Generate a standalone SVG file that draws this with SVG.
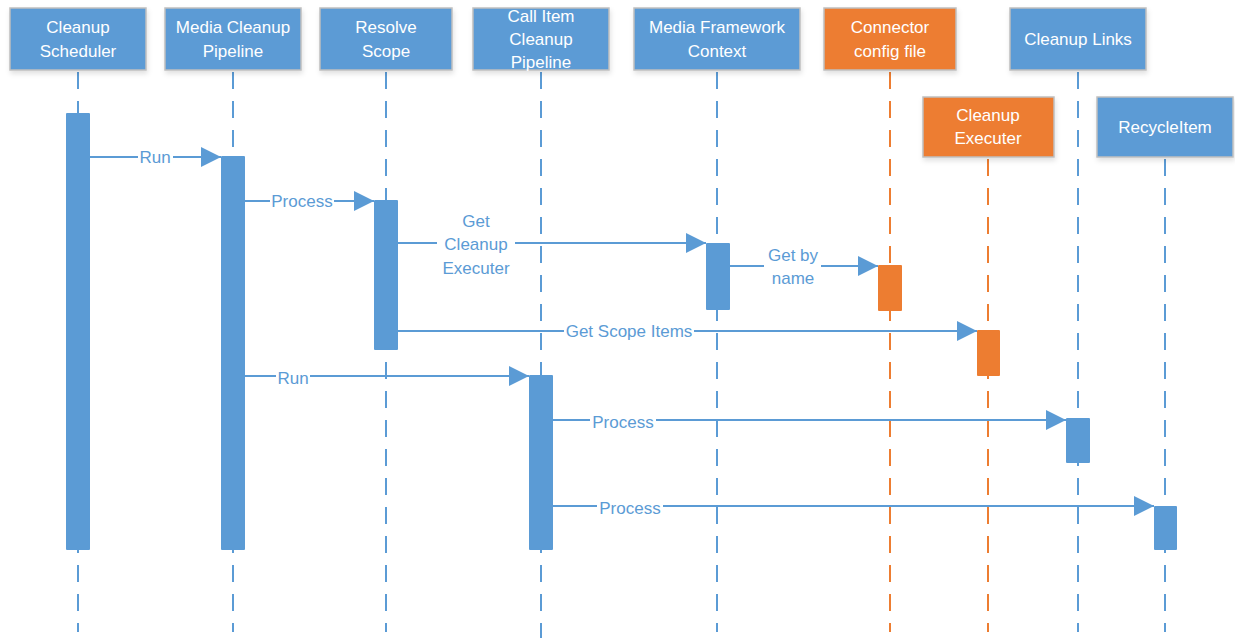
<svg xmlns="http://www.w3.org/2000/svg" width="1235" height="638" viewBox="0 0 1235 638">
<style>
.hb{fill:#5B9BD5;stroke:#BFBFBF;stroke-width:1.5;filter:url(#sh)}
.ho{fill:#ED7D31;stroke:#BFBFBF;stroke-width:1.5;filter:url(#sh)}
.ht{font-family:"Liberation Sans",Arial,sans-serif;font-size:17px;fill:#fff;text-anchor:middle;dominant-baseline:central}
.lb{stroke:#5B9BD5;stroke-width:2;stroke-dasharray:17 12;fill:none}
.lo{stroke:#ED7D31;stroke-width:2;stroke-dasharray:17 12;fill:none}
.ab{fill:#5B9BD5}
.ao{fill:#ED7D31}
.msg{stroke:#5B9BD5;stroke-width:2;fill:none;marker-end:url(#ar)}
.ml{font-family:"Liberation Sans",Arial,sans-serif;font-size:17px;fill:#5B9BD5;text-anchor:middle;dominant-baseline:central}
.bg{fill:#fff}
</style>
<defs>
<filter id="sh" x="-10%" y="-10%" width="130%" height="140%">
<feGaussianBlur in="SourceAlpha" stdDeviation="2.5"/>
<feOffset dx="1" dy="3" result="b"/>
<feFlood flood-color="#000" flood-opacity="0.12"/>
<feComposite in2="b" operator="in"/>
<feMerge><feMergeNode/><feMergeNode in="SourceGraphic"/></feMerge>
</filter>
<marker id="ar" markerUnits="userSpaceOnUse" markerWidth="20" markerHeight="20" refX="20" refY="10" orient="auto">
<path d="M0,0 L20,10 L0,20 z" fill="#5B9BD5"/>
</marker>
</defs>
<rect width="1235" height="638" fill="#fff"/>

<g id="cleanup-scheduler">
<line class="lb" x1="78" y1="72" x2="78" y2="632"/>
<rect class="hb" x="10" y="8" width="136" height="62"/>
<text class="ht" x="78" y="27">Cleanup</text>
<text class="ht" x="78" y="51">Scheduler</text>
<rect class="ab" x="66" y="113" width="24" height="437" rx="1"/>
</g>

<g id="media-cleanup-pipeline">
<line class="lb" x1="233" y1="72" x2="233" y2="632"/>
<rect class="hb" x="165" y="8" width="136" height="62"/>
<text class="ht" x="233" y="27">Media Cleanup</text>
<text class="ht" x="233" y="51">Pipeline</text>
<rect class="ab" x="221" y="156" width="24" height="394" rx="1"/>
</g>

<g id="resolve-scope">
<line class="lb" x1="386" y1="72" x2="386" y2="632"/>
<rect class="hb" x="320" y="8" width="132" height="62"/>
<text class="ht" x="386" y="27">Resolve</text>
<text class="ht" x="386" y="51">Scope</text>
<rect class="ab" x="374" y="200" width="24" height="150" rx="1"/>
</g>

<g id="call-item-cleanup-pipeline">
<line class="lb" x1="541" y1="72" x2="541" y2="638"/>
<rect class="hb" x="473" y="8" width="136" height="62"/>
<text class="ht" x="541" y="16">Call Item</text>
<text class="ht" x="541" y="39">Cleanup</text>
<text class="ht" x="541" y="62">Pipeline</text>
<rect class="ab" x="529" y="375" width="24" height="175" rx="1"/>
</g>

<g id="media-framework-context">
<line class="lb" x1="717" y1="72" x2="717" y2="632"/>
<rect class="hb" x="634" y="8" width="166" height="62"/>
<text class="ht" x="717" y="27">Media Framework</text>
<text class="ht" x="717" y="51">Context</text>
<rect class="ab" x="706" y="243" width="24" height="67" rx="1"/>
</g>

<g id="connector-config-file">
<line class="lo" x1="890" y1="72" x2="890" y2="632"/>
<rect class="ho" x="824" y="8" width="132" height="62"/>
<text class="ht" x="890" y="27">Connector</text>
<text class="ht" x="890" y="51">config file</text>
<rect class="ao" x="878" y="265" width="24" height="46" rx="1"/>
</g>

<g id="cleanup-links">
<line class="lb" x1="1078" y1="72" x2="1078" y2="632"/>
<rect class="hb" x="1010" y="8" width="136" height="62"/>
<text class="ht" x="1078" y="39">Cleanup Links</text>
<rect class="ab" x="1066" y="418" width="24" height="45" rx="1"/>
</g>

<g id="cleanup-executer">
<line class="lo" x1="988" y1="159" x2="988" y2="632"/>
<rect class="ho" x="923" y="97" width="131" height="60"/>
<text class="ht" x="988" y="115">Cleanup</text>
<text class="ht" x="988" y="138">Executer</text>
<rect class="ao" x="977" y="330" width="23" height="46" rx="1"/>
</g>

<g id="recycle-item">
<line class="lb" x1="1165" y1="159" x2="1165" y2="632"/>
<rect class="hb" x="1097" y="97" width="136" height="60"/>
<text class="ht" x="1165" y="127">RecycleItem</text>
<rect class="ab" x="1154" y="506" width="23" height="44" rx="1"/>
</g>

<g id="connectors">
<line class="msg" x1="90" y1="157" x2="221" y2="157"/>
<rect class="bg" x="138" y="148" width="35" height="18"/>
<text class="ml" x="155" y="157">Run</text>

<line class="msg" x1="245" y1="201" x2="374" y2="201"/>
<rect class="bg" x="270" y="192" width="64" height="18"/>
<text class="ml" x="302" y="201">Process</text>

<line class="msg" x1="398" y1="243" x2="706" y2="243"/>
<rect class="bg" x="437" y="210" width="78" height="70"/>
<text class="ml" x="476" y="221">Get</text>
<text class="ml" x="476" y="244">Cleanup</text>
<text class="ml" x="476" y="268">Executer</text>

<line class="msg" x1="730" y1="266" x2="878" y2="266"/>
<rect class="bg" x="764" y="245" width="57" height="44"/>
<text class="ml" x="793" y="255">Get by</text>
<text class="ml" x="793" y="278">name</text>

<line class="msg" x1="398" y1="331" x2="977" y2="331"/>
<rect class="bg" x="564" y="322" width="130" height="18"/>
<text class="ml" x="629" y="331">Get Scope Items</text>

<line class="msg" x1="245" y1="376" x2="529" y2="376"/>
<rect class="bg" x="276" y="367" width="34" height="18"/>
<text class="ml" x="293" y="378">Run</text>

<line class="msg" x1="553" y1="420" x2="1066" y2="420"/>
<rect class="bg" x="590" y="411" width="66" height="18"/>
<text class="ml" x="623" y="422">Process</text>

<line class="msg" x1="553" y1="506" x2="1154" y2="506"/>
<rect class="bg" x="597" y="497" width="66" height="18"/>
<text class="ml" x="630" y="508">Process</text>
</g>
</svg>
